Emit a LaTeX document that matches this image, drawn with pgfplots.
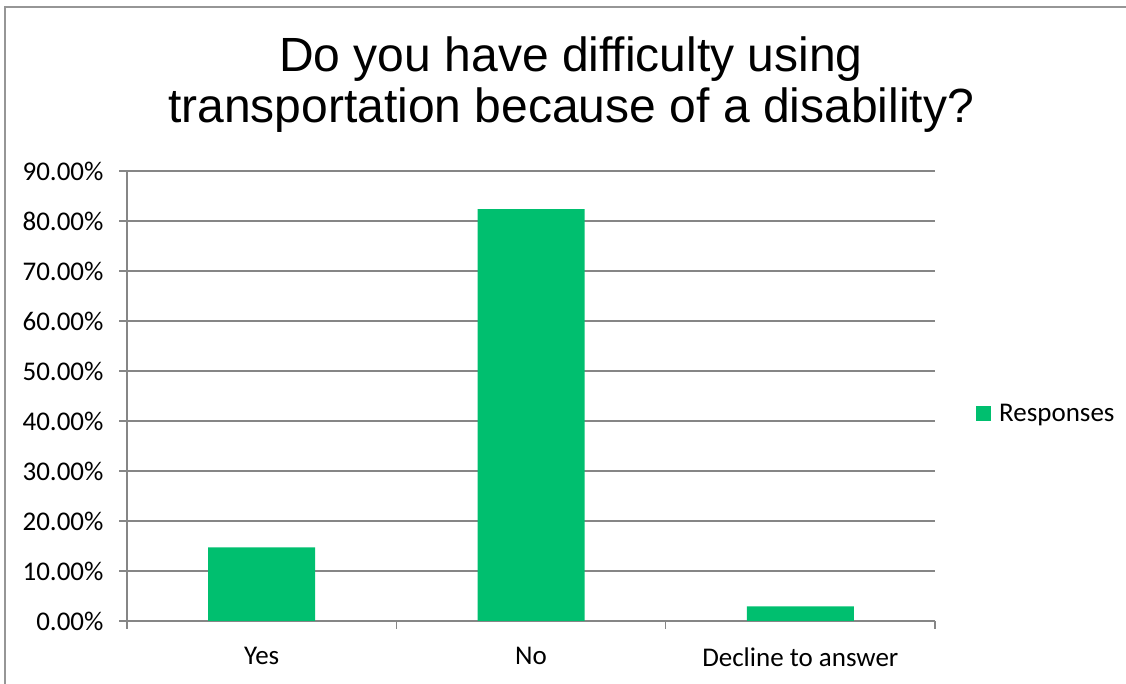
\documentclass[border=0pt]{standalone}
\usepackage{fontspec}
\setmainfont{Carlito}
\newfontfamily\arialfont{Liberation Sans}
\usepackage{pgfplots}
\pgfplotsset{compat=1.18}
\definecolor{bargreen}{RGB}{0,191,111}
\definecolor{gridgray}{RGB}{134,134,134}
\definecolor{framegray}{RGB}{150,150,150}

\begin{document}
\begin{tikzpicture}[x=1pt,y=1pt]
\path[use as bounding box] (0,0) rectangle (1126,684);
\draw[framegray, line width=1.5pt] (5,-3) -- (5,677) -- (1132,677);
\node[anchor=base, inner sep=0pt, font=\arialfont\fontsize{48}{52}\selectfont] at (571,612) {Do you have difficulty using};
\node[anchor=base, inner sep=0pt, font=\arialfont\fontsize{48}{52}\selectfont] at (571,561) {transportation because of a disability?};
\begin{axis}[
  at={(127pt,63pt)}, anchor=south west,
  scale only axis, width=808pt, height=450pt,
  xmin=0.5, xmax=3.5, ymin=0, ymax=90,
  ytick={0,10,20,30,40,50,60,70,80,90},
  xtick={0.5,1.5,2.5,3.5},
  x tick label as interval,
  xticklabels={Yes,No,Decline to answer},
  yticklabel={\pgfmathprintnumber[fixed,fixed zerofill,precision=2]{\tick}\%},
  /pgf/number format/assume math mode=true,
  ticklabel style={font=\fontsize{27}{31}\selectfont, text=black},
  yticklabel style={xshift=-12pt},
  xticklabel style={yshift=-15pt},
  ymajorgrids,
  grid style={gridgray, line width=1.5pt},
  axis x line*=bottom, axis y line*=left,
  axis line style={gridgray, line width=1.5pt, -},
  tick style={gridgray, line width=1.5pt},
  tick align=outside,
  major tick length=8pt,
  ybar, bar width=107pt, bar shift=0pt,
  legend style={at={(axis description cs:1,0.5)}, anchor=west, xshift=41pt, yshift=-18pt, draw=none, fill=none, inner sep=0pt, font=\fontsize{27}{31}\selectfont},
  legend image code/.code={\fill[bargreen] (0pt,-7.5pt) rectangle (15pt,7.5pt); \path (21pt,0pt);},
]
\addplot[ybar, fill=bargreen, draw=none] coordinates {(1,14.71) (2,82.35) (3,2.94)};
\addlegendentry{Responses}
\end{axis}
\end{tikzpicture}
\end{document}
